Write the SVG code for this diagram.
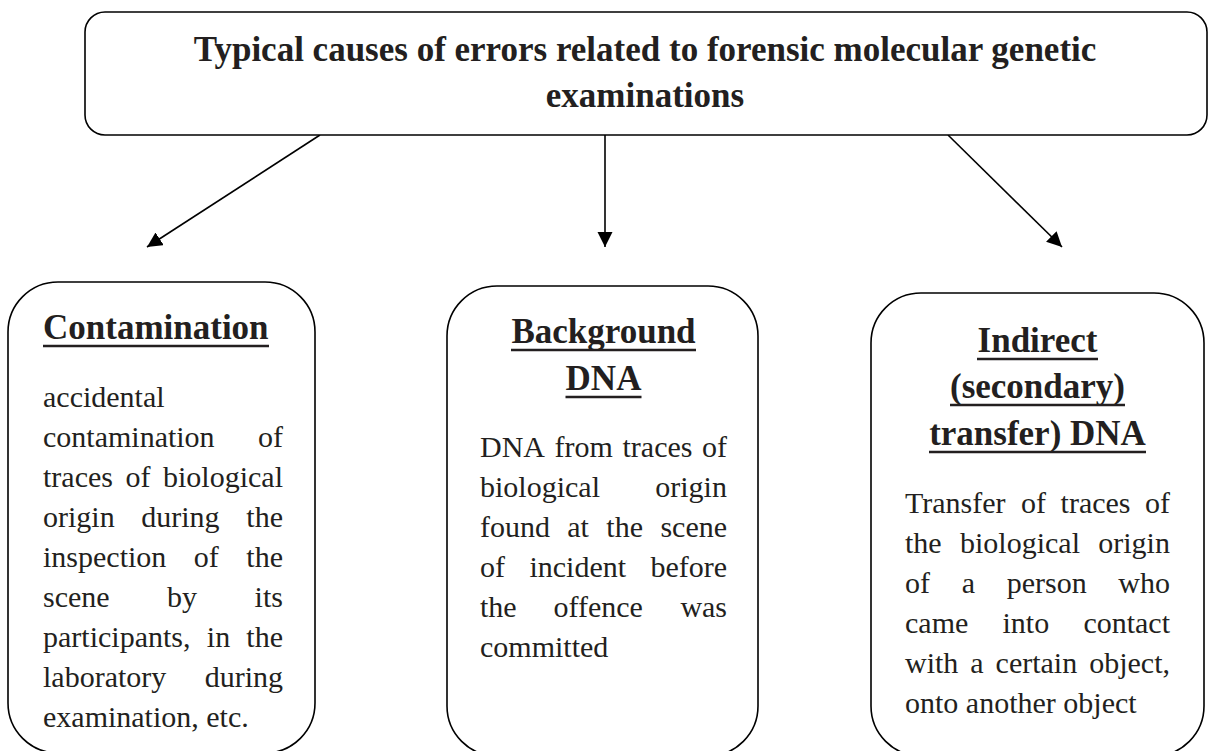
<svg xmlns="http://www.w3.org/2000/svg" width="1208" height="751" viewBox="0 0 1208 751">
<style>
.box{fill:#fff;stroke:#000;stroke-width:1.6}
.h{font-family:"Liberation Serif","Times New Roman",serif;font-weight:bold;font-size:35px;fill:#231f20}
.b{font-family:"Liberation Serif","Times New Roman",serif;font-size:30px;fill:#231f20}
.u{stroke:#231f20;stroke-width:2.6}
.c{stroke:#000;stroke-width:1.6;fill:none}
</style>
<defs>
<marker id="arr" markerUnits="userSpaceOnUse" markerWidth="16" markerHeight="16" refX="15" refY="7.5" orient="auto">
<path d="M0,0 L15,7.5 L0,15 z" fill="#000"/>
</marker>
</defs>
<rect width="1208" height="751" fill="#fff"/>
<g id="connectors">
<line class="c" x1="320" y1="135" x2="147" y2="247" marker-end="url(#arr)"/>
<line class="c" x1="605" y1="135" x2="605" y2="247" marker-end="url(#arr)"/>
<line class="c" x1="948" y1="135" x2="1062" y2="247" marker-end="url(#arr)"/>
</g>
<g id="title">
<rect class="box" x="85" y="12" width="1122" height="123" rx="20"/>
<text class="h" x="645" y="61" text-anchor="middle">Typical causes of errors related to forensic molecular genetic</text>
<text class="h" x="645" y="107" text-anchor="middle">examinations</text>
</g>
<g id="contamination">
<rect class="box" x="8" y="282" width="307" height="471" rx="50"/>
<text class="h" x="43" y="339">Contamination</text>
<line class="u" x1="43" y1="346" x2="269" y2="346"/>
<text class="b" x="43" y="407">accidental</text>
<text class="b" y="447"><tspan x="43">contamination</tspan><tspan x="258">of</tspan></text>
<text class="b" y="487"><tspan x="43">traces</tspan><tspan x="125.5">of</tspan><tspan x="163">biological</tspan></text>
<text class="b" y="527"><tspan x="43">origin</tspan><tspan x="141.3">during</tspan><tspan x="246.3">the</tspan></text>
<text class="b" y="567"><tspan x="43">inspection</tspan><tspan x="193.8">of</tspan><tspan x="246.3">the</tspan></text>
<text class="b" y="607"><tspan x="43">scene</tspan><tspan x="167.1">by</tspan><tspan x="254.6">its</tspan></text>
<text class="b" y="647"><tspan x="43">participants,</tspan><tspan x="206.8">in</tspan><tspan x="246.3">the</tspan></text>
<text class="b" y="687"><tspan x="43">laboratory</tspan><tspan x="204.7">during</tspan></text>
<text class="b" x="43" y="727">examination, etc.</text>
</g>
<g id="background">
<rect class="box" x="447" y="286" width="311" height="470" rx="50"/>
<text class="h" x="603.5" y="343" text-anchor="middle">Background</text>
<line class="u" x1="511" y1="350" x2="696" y2="350"/>
<text class="h" x="603.5" y="390" text-anchor="middle">DNA</text>
<line class="u" x1="565.5" y1="397" x2="641.5" y2="397"/>
<text class="b" y="457"><tspan x="480">DNA</tspan><tspan x="554.6">from</tspan><tspan x="622.5">traces</tspan><tspan x="702">of</tspan></text>
<text class="b" y="497"><tspan x="480">biological</tspan><tspan x="655.3">origin</tspan></text>
<text class="b" y="537"><tspan x="480">found</tspan><tspan x="567.3">at</tspan><tspan x="606.3">the</tspan><tspan x="660.4">scene</tspan></text>
<text class="b" y="577"><tspan x="480">of</tspan><tspan x="529.4">incident</tspan><tspan x="650.4">before</tspan></text>
<text class="b" y="617"><tspan x="480">the</tspan><tspan x="553.5">offence</tspan><tspan x="680.4">was</tspan></text>
<text class="b" x="480" y="657">committed</text>
</g>
<g id="indirect">
<rect class="box" x="871" y="293" width="333" height="463" rx="50"/>
<text class="h" x="1037.5" y="352" text-anchor="middle">Indirect</text>
<line class="u" x1="977" y1="359" x2="1098" y2="359"/>
<text class="h" x="1037.5" y="398" text-anchor="middle">(secondary)</text>
<line class="u" x1="950" y1="405" x2="1125" y2="405"/>
<text class="h" x="1037.5" y="445" text-anchor="middle">transfer) DNA</text>
<line class="u" x1="929" y1="452" x2="1146" y2="452"/>
<text class="b" y="513"><tspan x="905">Transfer</tspan><tspan x="1021.1">of</tspan><tspan x="1060.6">traces</tspan><tspan x="1145">of</tspan></text>
<text class="b" y="553"><tspan x="905">the</tspan><tspan x="960">biological</tspan><tspan x="1098.3">origin</tspan></text>
<text class="b" y="593"><tspan x="905">of</tspan><tspan x="961.7">a</tspan><tspan x="1006.7">person</tspan><tspan x="1118.3">who</tspan></text>
<text class="b" y="633"><tspan x="905">came</tspan><tspan x="1002.5">into</tspan><tspan x="1083.4">contact</tspan></text>
<text class="b" y="673"><tspan x="905">with</tspan><tspan x="970.3">a</tspan><tspan x="995.6">certain</tspan><tspan x="1089.2">object,</tspan></text>
<text class="b" x="905" y="713">onto another object</text>
</g>
</svg>
